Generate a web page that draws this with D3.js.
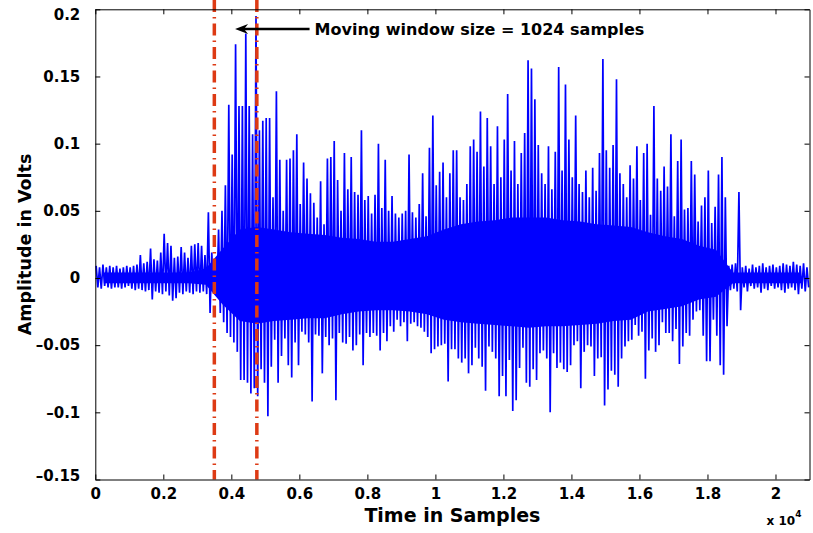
<!DOCTYPE html>
<html>
<head>
<meta charset="utf-8">
<script src="https://d3js.org/d3.v7.min.js"></script>
<style>
  body { margin: 0; background: #fff; }
  svg { display: block; }
</style>
</head>
<body>
<div id="chart"></div>
<script>
// Set size constants
var totWidth = 813,
    totHeight = 533;
var plot = {left: 95.3, right: 809.5, top: 9.3, bottom: 479.5};

// Waveform: peak max / min of each block of 100 samples
var blockSize = 100;
var peakHi = [
  0.009,0.008,0.010,0.008,0.009,0.008,0.009,0.007,0.008,0.009,
  0.008,0.009,0.010,0.017,0.011,0.012,0.022,0.014,0.013,0.019,
  0.033,0.026,0.024,0.015,0.016,0.023,0.019,0.015,0.024,0.025,
  0.026,0.024,0.017,0.049,0.019,0.014,0.036,0.050,0.069,0.129,
  0.092,0.174,0.128,0.128,0.182,0.128,0.107,0.195,0.110,0.117,
  0.119,0.119,0.060,0.139,0.088,0.050,0.088,0.089,0.095,0.107,
  0.055,0.086,0.074,0.063,0.056,0.045,0.072,0.040,0.089,0.090,
  0.102,0.073,0.050,0.093,0.066,0.090,0.064,0.062,0.110,0.058,
  0.061,0.048,0.062,0.100,0.052,0.088,0.050,0.061,0.048,0.045,
  0.048,0.050,0.092,0.049,0.045,0.055,0.078,0.046,0.097,0.121,
  0.069,0.079,0.086,0.060,0.078,0.095,0.095,0.060,0.058,0.070,
  0.098,0.103,0.094,0.124,0.083,0.119,0.098,0.070,0.113,0.075,
  0.103,0.137,0.080,0.102,0.070,0.093,0.108,0.162,0.156,0.133,
  0.099,0.078,0.070,0.098,0.066,0.094,0.157,0.080,0.144,0.103,
  0.075,0.121,0.070,0.064,0.080,0.060,0.082,0.065,0.093,0.163,
  0.095,0.082,0.099,0.148,0.078,0.070,0.060,0.084,0.074,0.098,
  0.058,0.093,0.100,0.047,0.128,0.074,0.065,0.083,0.068,0.107,
  0.046,0.087,0.103,0.051,0.052,0.087,0.077,0.042,0.054,0.060,
  0.080,0.041,0.053,0.077,0.090,0.060,0.009,0.010,0.011,0.064,
  0.008,0.009,0.007,0.010,0.008,0.009,0.011,0.008,0.009,0.010,
  0.008,0.009,0.011,0.010,0.009,0.012,0.010,0.009,0.011,0.008
];
var peakLo = [
  -0.007,-0.008,-0.006,-0.007,-0.008,-0.007,-0.007,-0.008,-0.007,-0.006,
  -0.008,-0.009,-0.008,-0.009,-0.010,-0.009,-0.016,-0.010,-0.011,-0.012,
  -0.010,-0.013,-0.017,-0.015,-0.011,-0.012,-0.010,-0.011,-0.012,-0.010,
  -0.011,-0.010,-0.012,-0.026,-0.010,-0.012,-0.026,-0.033,-0.041,-0.044,
  -0.048,-0.055,-0.076,-0.076,-0.078,-0.086,-0.082,-0.088,-0.068,-0.078,
  -0.103,-0.066,-0.046,-0.078,-0.058,-0.045,-0.065,-0.074,-0.048,-0.065,
  -0.040,-0.042,-0.048,-0.092,-0.042,-0.043,-0.071,-0.044,-0.050,-0.045,
  -0.091,-0.041,-0.048,-0.049,-0.044,-0.054,-0.050,-0.042,-0.065,-0.041,
  -0.044,-0.041,-0.043,-0.054,-0.041,-0.047,-0.036,-0.040,-0.031,-0.036,
  -0.033,-0.047,-0.034,-0.033,-0.036,-0.037,-0.040,-0.044,-0.056,-0.053,
  -0.051,-0.050,-0.049,-0.077,-0.053,-0.053,-0.060,-0.063,-0.060,-0.071,
  -0.065,-0.052,-0.060,-0.066,-0.084,-0.051,-0.055,-0.060,-0.088,-0.073,
  -0.088,-0.061,-0.099,-0.091,-0.067,-0.052,-0.078,-0.081,-0.068,-0.076,
  -0.056,-0.054,-0.060,-0.100,-0.056,-0.067,-0.063,-0.068,-0.070,-0.065,
  -0.050,-0.047,-0.082,-0.055,-0.050,-0.051,-0.073,-0.060,-0.059,-0.095,
  -0.083,-0.069,-0.072,-0.081,-0.060,-0.051,-0.047,-0.046,-0.035,-0.043,
  -0.040,-0.075,-0.054,-0.045,-0.055,-0.050,-0.033,-0.041,-0.041,-0.047,
  -0.038,-0.064,-0.051,-0.041,-0.043,-0.031,-0.025,-0.024,-0.043,-0.062,
  -0.062,-0.031,-0.043,-0.065,-0.072,-0.036,-0.009,-0.008,-0.010,-0.024,
  -0.007,-0.010,-0.006,-0.008,-0.007,-0.011,-0.008,-0.009,-0.006,-0.008,
  -0.007,-0.009,-0.011,-0.008,-0.007,-0.009,-0.012,-0.008,-0.010,-0.007
];

// Dense (solid looking) part of the signal, per block of 500 samples
var coreBlock = 500;
var coreHi = [
  0.004,0.004,0.004,0.004,0.004,0.004,0.007,0.022,0.036,0.038,
  0.036,0.034,0.033,0.032,0.030,0.029,0.027,0.027,0.029,0.031,
  0.036,0.040,0.042,0.043,0.045,0.045,0.045,0.043,0.042,0.040,
  0.039,0.038,0.034,0.031,0.029,0.024,0.021,0.004,0.004,0.004,
  0.004,0.004
];
var coreLo = [
  -0.004,-0.004,-0.004,-0.004,-0.004,-0.004,-0.005,-0.020,-0.032,-0.034,
  -0.032,-0.031,-0.030,-0.030,-0.027,-0.025,-0.024,-0.024,-0.025,-0.027,
  -0.031,-0.033,-0.034,-0.035,-0.036,-0.037,-0.036,-0.036,-0.035,-0.034,
  -0.032,-0.031,-0.025,-0.023,-0.021,-0.016,-0.014,-0.004,-0.004,-0.004,
  -0.004,-0.004
];

// Axis ticks
var xTicks = [0, 2000, 4000, 6000, 8000, 10000, 12000, 14000, 16000, 18000, 20000];
var xTickLabels = ["0", "0.2", "0.4", "0.6", "0.8", "1", "1.2", "1.4", "1.6", "1.8", "2"];
var yTicks = [-0.15, -0.1, -0.05, 0, 0.05, 0.1, 0.15, 0.2];
var yTickLabels = ["\u20130.15", "\u20130.1", "\u20130.05", "0", "0.05", "0.1", "0.15", "0.2"];

// Moving window markers and annotation
var windowEdges = [3500, 4750];
var arrowFrom = [6300, 0.1854],
    arrowTo = [4110, 0.1854];
var annotationText = "Moving window size = 1024 samples";

var x = d3.scaleLinear().domain([0, 21000]).range([plot.left, plot.right]);
var y = d3.scaleLinear().domain([-0.15, 0.2]).range([plot.bottom, plot.top]);

var svg = d3.select("#chart")
  .append("svg")
    .attr("width", totWidth)
    .attr("height", totHeight)
    .style("font-family", "'DejaVu Sans', sans-serif")
    .style("font-weight", "bold");

// solid core of the waveform
var core = coreHi.map(function(h, k) { return [k * coreBlock + coreBlock / 2, h, coreLo[k]]; })
svg.append("path")
  .datum(core)
  .attr("fill", "#0000ff")
  .attr("d", d3.area()
    .x(function(d) { return x(d[0]); })
    .y0(function(d) { return y(d[2]); })
    .y1(function(d) { return y(d[1]); }))

// waveform as a zigzag through each block's max and min
var pts = []
peakHi.forEach(function(h, i) {
  pts.push([i * blockSize + 25, h])
  pts.push([i * blockSize + 75, peakLo[i]])
})

var line = d3.line()
  .x(function(d) { return x(d[0]); })
  .y(function(d) { return y(d[1]); })

svg.append("path")
  .datum(pts)
  .attr("fill", "none")
  .attr("stroke", "#0000ff")
  .attr("stroke-width", 1.7)
  .attr("stroke-linejoin", "miter")
  .attr("d", line)

// red window lines (drawn a bit past the top like the original)
svg.selectAll(".win")
  .data(windowEdges)
  .enter()
  .append("line")
    .attr("class", "win")
    .attr("x1", function(d) { return x(d); })
    .attr("x2", function(d) { return x(d); })
    .attr("y1", y(0.207))
    .attr("y2", y(-0.15))
    .attr("stroke", "#dd3a14")
    .attr("stroke-width", 3.5)
    .attr("stroke-dasharray", "12,5,1.5,5")

// axes, MATLAB style: ticks inside on all sides
var fmtX = function(d) { return xTickLabels[xTicks.indexOf(d)]; }
var fmtY = function(d) { return yTickLabels[yTicks.indexOf(d)]; }

svg.append("g")
  .attr("transform", "translate(0," + plot.bottom + ")")
  .call(d3.axisBottom(x).tickValues(xTicks).tickFormat(fmtX)
    .tickSizeInner(-5).tickSizeOuter(0).tickPadding(9))
svg.append("g")
  .attr("transform", "translate(0," + plot.top + ")")
  .call(d3.axisTop(x).tickValues(xTicks).tickFormat("")
    .tickSizeInner(-5).tickSizeOuter(0))
var gy = svg.append("g")
  .attr("transform", "translate(" + plot.left + ",0)")
  .call(d3.axisLeft(y).tickValues(yTicks).tickFormat(fmtY)
    .tickSizeInner(-5).tickSizeOuter(0).tickPadding(15))
svg.append("g")
  .attr("transform", "translate(" + plot.right + ",0)")
  .call(d3.axisRight(y).tickValues(yTicks).tickFormat("")
    .tickSizeInner(-5).tickSizeOuter(0))

svg.selectAll(".tick text")
  .attr("font-family", "'DejaVu Sans', sans-serif")
  .attr("font-weight", "bold")
  .attr("font-size", 15)
  .attr("fill", "#000")
svg.selectAll(".domain, .tick line").attr("stroke", "#000").attr("stroke-width", 1)

// keep the end labels inside the box like matlab does
gy.selectAll(".tick text")
  .attr("dy", function(d) { return d === 0.2 ? "0.7em" : (d === -0.15 ? "0.05em" : "0.32em"); })

// axis labels
svg.append("text")
  .attr("text-anchor", "middle")
  .attr("x", x(10500))
  .attr("y", 521.5)
  .attr("font-size", 19)
  .text("Time in Samples")

svg.append("text")
  .attr("text-anchor", "middle")
  .attr("transform", "translate(31," + y(0.025) + ") rotate(-90)")
  .attr("font-size", 17.5)
  .text("Amplitude in Volts")

var expo = svg.append("text")
  .attr("x", 766.5)
  .attr("y", 525)
  .attr("font-size", 12)
expo.append("tspan").text("x 10")
expo.append("tspan").attr("font-size", 9).attr("dy", -8).text("4")

// arrow + annotation
svg.append("line")
  .attr("x1", x(arrowFrom[0]))
  .attr("y1", y(arrowFrom[1]))
  .attr("x2", x(arrowTo[0]) + 8)
  .attr("y2", y(arrowTo[1]))
  .attr("stroke", "#000")
  .attr("stroke-width", 2.5)

var ax = x(arrowTo[0]), ay = y(arrowTo[1])
svg.append("path")
  .attr("d", "M" + ax + "," + ay + "L" + (ax + 13) + "," + (ay - 5) +
             "L" + (ax + 9) + "," + ay + "L" + (ax + 13) + "," + (ay + 5) + "Z")
  .attr("fill", "#000")

svg.append("text")
  .attr("x", x(arrowFrom[0]) + 5)
  .attr("y", y(arrowFrom[1]) + 6)
  .attr("font-size", 16)
  .text(annotationText)
</script>
</body>
</html>
